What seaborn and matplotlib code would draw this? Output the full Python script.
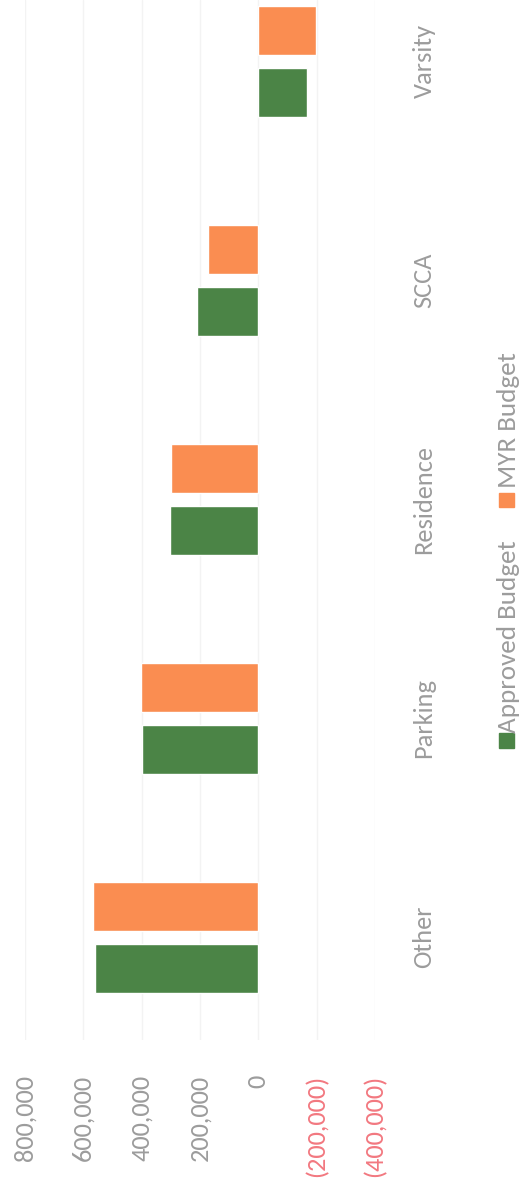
import pandas as pd
import seaborn as sns
import matplotlib.pyplot as plt
from matplotlib.patches import Rectangle

# Budget comparison by ancillary unit
categories = ["Other", "Parking", "Residence", "SCCA", "Varsity"]
approved_budget = [560000, 398000, 302000, 210000, -168000]
myr_budget = [565000, 402000, 298000, 172000, -196000]
series = ["Approved Budget", "MYR Budget"]
tick_values = [800000, 600000, 400000, 200000, 0, -200000, -400000]

GREEN = "#4b8446"
ORANGE = "#fa8d51"
GREY = "#9c9c9c"
RED = "#f27880"

df = pd.DataFrame({
    "Category": categories * 2,
    "Series": [series[0]] * len(categories) + [series[1]] * len(categories),
    "Value": approved_budget + myr_budget,
})

sns.set_theme(style="white")
plt.rcParams["font.family"] = ["Carlito", "DejaVu Sans"]


def money(v):
    if v < 0:
        return f"({abs(v):,.0f})"
    return f"{v:,.0f}"


fig = plt.figure(figsize=(5.29, 11.8), dpi=100)
ax = fig.add_axes([0.047, 0.1186, 0.662, 0.8814])

sns.barplot(
    data=df, y="Category", x="Value", hue="Series",
    order=categories[::-1], hue_order=series[::-1],
    palette={series[0]: GREEN, series[1]: ORANGE},
    orient="h", width=0.566, gap=0.21, saturation=1,
    legend=False, ax=ax,
)

ax.set_xlim(800000, -400000)
ax.set_ylim(4.47, -0.279)
ax.set_xlabel("")
ax.set_ylabel("")
for s in ax.spines.values():
    s.set_visible(False)

ax.set_xticks(tick_values)
ax.set_xticklabels([money(v) for v in tick_values])
ax.tick_params(axis="x", length=0, pad=25, labelsize=19)
for lab, v in zip(ax.get_xticklabels(), tick_values):
    lab.set_rotation(90)
    lab.set_ha("center")
    lab.set_va("top")
    lab.set_color(RED if v < 0 else GREY)

ax.yaxis.tick_right()
ax.tick_params(axis="y", length=0, pad=27, labelsize=19, labelcolor=GREY)
for lab in ax.get_yticklabels():
    lab.set_rotation(90)
    lab.set_va("center")
    lab.set_ha("left")

ax.grid(axis="x", color="#f3f3f3", linewidth=1)
ax.grid(axis="y", visible=False)
ax.set_axisbelow(True)

# Legend drawn vertically along the right edge
fig.patches.append(Rectangle((0.943, 0.366), 0.0284, 0.0127,
                             transform=fig.transFigure, color=GREEN))
fig.patches.append(Rectangle((0.943, 0.5703), 0.0284, 0.0119,
                             transform=fig.transFigure, color=ORANGE))
fig.text(0.962, 0.4606, series[0], rotation=90, ha="center", va="center",
         fontsize=19.5, color=GREY)
fig.text(0.962, 0.644, series[1], rotation=90, ha="center", va="center",
         fontsize=19.5, color=GREY)

fig.savefig("out.png", dpi=100, facecolor="white")
